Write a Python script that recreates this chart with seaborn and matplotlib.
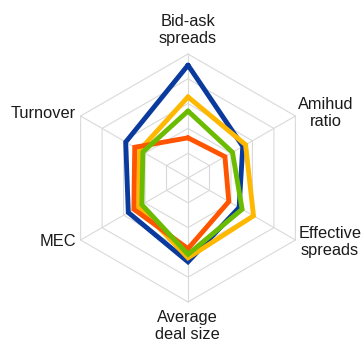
import numpy as np
import pandas as pd
import matplotlib
matplotlib.use("Agg")
import matplotlib.pyplot as plt
import seaborn as sns

# axes of the radar, clockwise from the top
metrics = ["Bid-ask\nspreads", "Amihud\nratio", "Effective\nspreads",
           "Average\ndeal size", "MEC", "Turnover"]

# values (grid rings 1..5)
series_names = ["Series 1", "Series 2", "Series 3", "Series 4"]
blue_vals = [4.55, 2.55, 2.38, 3.38, 2.78, 2.9]
yellow_vals = [3.27, 2.68, 3.05, 3.22, 2.3, 2.25]
red_vals = [1.62, 1.72, 1.9, 2.85, 2.52, 2.48]
green_vals = [2.7, 2.07, 2.52, 3.08, 2.15, 2.1]
all_vals = [blue_vals, yellow_vals, red_vals, green_vals]
colors = ["#0A3A9E", "#FFB800", "#FF5500", "#6BBB00"]

n_rings = 5

sns.set_theme(style="white")
plt.rcParams["font.family"] = ["Liberation Sans", "DejaVu Sans"]

angles = np.linspace(0, 2 * np.pi, len(metrics), endpoint=False)

rows = []
for name, vals in zip(series_names, all_vals):
    closed = list(vals) + [vals[0]]
    closed_ang = list(angles) + [angles[0]]
    for i, (v, a) in enumerate(zip(closed, closed_ang)):
        rows.append({"series": name, "order": i,
                     "x": v * np.sin(a), "y": v * np.cos(a)})
df = pd.DataFrame(rows)

fig = plt.figure(figsize=(3.61, 3.42), dpi=100)
ax = fig.add_axes([0, 0, 1, 1])

# hexagonal grid
grid_c = "#D9D9D9"
for r in range(1, n_rings + 1):
    hx = [r * np.sin(a) for a in list(angles) + [angles[0]]]
    hy = [r * np.cos(a) for a in list(angles) + [angles[0]]]
    ax.plot(hx, hy, color=grid_c, lw=0.8, zorder=1)
for a in angles:
    ax.plot([0, n_rings * np.sin(a)], [0, n_rings * np.cos(a)],
            color=grid_c, lw=0.8, zorder=1)

sns.lineplot(data=df, x="x", y="y", hue="series", units="series",
             estimator=None, sort=False, palette=colors, lw=3.5,
             legend=False, ax=ax, zorder=3)
for line in ax.lines[-4:]:
    line.set_solid_joinstyle("miter")

# label positions (data units)
unit = 24.8
cx, cy = 188, 178
label_px = [(188, 30), (326, 113), (330, 242), (187, 326), (58, 241), (43, 114)]
for lab, (px, py) in zip(metrics, label_px):
    ax.text((px - cx) / unit, (cy - py) / unit, lab, ha="center",
            va="center", fontsize=11.8, color="#1a1a1a", linespacing=1.1,
            multialignment="center")

ax.set_xlim(-cx / unit, (361 - cx) / unit)
ax.set_ylim(-(342 - cy) / unit, cy / unit)
ax.set_axis_off()

fig.savefig("out.png", dpi=100, facecolor="white")
